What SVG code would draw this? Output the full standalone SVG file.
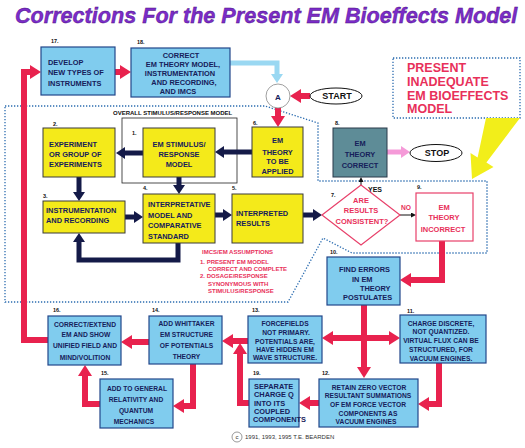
<svg xmlns="http://www.w3.org/2000/svg" width="525" height="448" viewBox="0 0 525 448">
<style>
text{font-family:"Liberation Sans",Arial,sans-serif;font-weight:bold}
.yb{fill:#f4ea1a;stroke:#3a3a3a;stroke-width:1}
.bb{fill:#80ccee;stroke:#22468a;stroke-width:1.2}
.t{fill:#16205a;font-size:7.4px}
.s{fill:#16205a;font-size:6.7px}
.c{text-anchor:middle}
.lb{fill:#111;font-size:5.5px}
.red{fill:none;stroke:#e8224e;stroke-width:6}
.navy{fill:none;stroke:#141a48;stroke-width:5}
.dot{fill:none;stroke:#2b6cb0;stroke-width:1.3;stroke-dasharray:1.3 1.7}
.rt{fill:#e8305a}
</style>
<defs>
<marker id="rh" markerUnits="userSpaceOnUse" viewBox="0 0 11 14" markerWidth="11" markerHeight="14" refX="1" refY="7" orient="auto"><path d="M0,0L11,7L0,14z" fill="#e8224e"/></marker>
<marker id="nh" markerUnits="userSpaceOnUse" viewBox="0 0 9 12" markerWidth="9" markerHeight="12" refX="1" refY="6" orient="auto"><path d="M0,0L9,6L0,12z" fill="#141a48"/></marker>
<marker id="lh" markerUnits="userSpaceOnUse" viewBox="0 0 9 12" markerWidth="9" markerHeight="12" refX="1" refY="6" orient="auto"><path d="M0,0L9,6L0,12z" fill="#9ad8f2"/></marker>
<marker id="ph" markerUnits="userSpaceOnUse" viewBox="0 0 9 12" markerWidth="9" markerHeight="12" refX="1" refY="6" orient="auto"><path d="M0,0L9,6L0,12z" fill="#f59ad8"/></marker>
<marker id="th" markerUnits="userSpaceOnUse" viewBox="0 0 5 5" markerWidth="5" markerHeight="5" refX="0" refY="2.5" orient="auto"><path d="M0,0L5,2.5L0,5z" fill="#111"/></marker>
</defs>
<rect width="525" height="448" fill="#fff"/>
<text x="15" y="23" font-size="21.6" font-style="italic" fill="#7b2cc9" stroke="#4a1080" stroke-width="0.4">Corrections For the Present EM Bioeffects Model</text>

<g id="boundaries">
<path class="dot" d="M5,106L265,106L318,123L318,181L487,181L487,253L352,253L323,238L288,302L5,302Z"/>
<rect class="dot" x="393" y="58" width="127" height="60"/>
<rect x="122" y="118" width="115" height="65" fill="none" stroke="#222" stroke-width="0.8"/>
<text x="113" y="115" font-size="6" fill="#111">OVERALL STIMULUS/RESPONSE MODEL</text>
</g>

<g id="model-label">
<text class="rt" x="407" y="72" font-size="12.5">PRESENT</text>
<text class="rt" x="407" y="86" font-size="12.5">INADEQUATE</text>
<text class="rt" x="407" y="100" font-size="12.5">EM BIOEFFECTS</text>
<text class="rt" x="407" y="113" font-size="12.5">MODEL</text>
<polygon points="486,118 520,118 486.4,162.4 493.5,167 472,179 470.5,153 477.6,157.6" fill="#f2ee1a"/>
</g>

<g id="connectors">
<path class="red" d="M115,72L121,72" marker-end="url(#rh)"/>
<path class="red" d="M310,96L300,96" marker-end="url(#rh)"/>
<path class="red" d="M278,108L278,117" marker-end="url(#rh)"/>
<path class="red" d="M442,241L442,280L410,280" marker-end="url(#rh)"/>
<path class="red" d="M364,305L364,368" marker-end="url(#rh)"/>
<path class="red" d="M364,338L332,338" marker-end="url(#rh)"/>
<path class="red" d="M364,338L390,338" marker-end="url(#rh)"/>
<path class="red" d="M439,363L439,404L428,404" marker-end="url(#rh)"/>
<path class="red" d="M319,403L309,403" marker-end="url(#rh)"/>
<path class="red" d="M248,341L232,341" marker-end="url(#rh)"/>
<path class="red" d="M249,403L240,403L240,353" marker-end="url(#rh)"/>
<path class="red" d="M149,342L131,342" marker-end="url(#rh)"/>
<path class="red" d="M193,364L193,406L183,406" marker-end="url(#rh)"/>
<path class="red" d="M100,404L85,404L85,375" marker-end="url(#rh)"/>
<path class="red" d="M48,340L24,340L24,72L31,72" marker-end="url(#rh)"/>
<path class="navy" d="M252,152L223,152" marker-end="url(#nh)"/>
<path class="navy" d="M143,153L124,153" marker-end="url(#nh)"/>
<path class="navy" d="M79,177L79,193" marker-end="url(#nh)"/>
<path class="navy" d="M179,177L179,186" marker-end="url(#nh)"/>
<path class="navy" d="M125,217L135,217" marker-end="url(#nh)"/>
<path class="navy" d="M215,215L224,215" marker-end="url(#nh)"/>
<path class="navy" d="M303,215L314,215" marker-end="url(#nh)"/>
<path class="navy" d="M178,243L178,260L79,260L79,241" marker-end="url(#nh)"/>
<path d="M230,63L277,63L277,75" fill="none" stroke="#9ad8f2" stroke-width="5" marker-end="url(#lh)"/>
<path d="M387,152L402,152" fill="none" stroke="#f59ad8" stroke-width="5" marker-end="url(#ph)"/>
<path d="M361,185L361,182" fill="none" stroke="#111" stroke-width="1" marker-end="url(#th)"/>
<path d="M400,215L411,215" fill="none" stroke="#111" stroke-width="1" marker-end="url(#th)"/>
<text x="368" y="192" font-size="7" fill="#111">YES</text>
<text x="401" y="210" font-size="6.7" fill="#e8305a">NO</text>
</g>

<g id="n17"><rect class="bb" x="41" y="47" width="74" height="48"/><text class="lb" x="51" y="43">17.</text>
<text class="t" x="48" y="65">DEVELOP</text><text class="t" x="48" y="75">NEW TYPES OF</text><text class="t" x="48" y="86">INSTRUMENTS</text></g>

<g id="n18"><rect class="bb" x="131" y="48" width="99" height="49"/><text class="lb" x="137" y="44">18.</text>
<text class="t c" x="181" y="58">CORRECT</text><text class="t c" x="183" y="66.5">EM THEORY MODEL,</text><text class="t c" x="180" y="75.5">INSTRUMENTATION</text><text class="t c" x="184" y="85">AND RECORDING,</text><text class="t c" x="178" y="93.5">AND IMCS</text></g>

<g id="nA"><circle cx="278" cy="96" r="12" fill="#fff" stroke="#888" stroke-width="0.8"/><text class="c" x="278" y="99.5" font-size="8" fill="#16205a">A</text></g>

<g id="nStart"><ellipse cx="336" cy="96" rx="26" ry="8" fill="#fff" stroke="#111" stroke-width="1"/><text class="c" x="337" y="99.2" font-size="9" fill="#111">START</text></g>

<g id="n2"><rect class="yb" x="43" y="128" width="72" height="49"/><text class="lb" x="53" y="126">2.</text>
<text class="t" x="49" y="147">EXPERIMENT</text><text class="t" x="49" y="157">OR GROUP OF</text><text class="t" x="49" y="167">EXPERIMENTS</text></g>

<g id="n1"><rect class="yb" x="143" y="128" width="72" height="49"/><text class="lb" x="132" y="135">1.</text>
<text class="t c" x="179" y="147">EM STIMULUS/</text><text class="t c" x="179" y="157">RESPONSE</text><text class="t c" x="179" y="167">MODEL</text></g>

<g id="n6"><rect class="yb" x="252" y="127" width="51" height="50"/><text class="lb" x="253" y="125">6.</text>
<text class="t c" x="277.5" y="143">EM</text><text class="t c" x="277.5" y="154.5">THEORY</text><text class="t c" x="277.5" y="164">TO BE</text><text class="t c" x="277.5" y="174">APPLIED</text></g>

<g id="n8"><rect x="333" y="128" width="54" height="49" fill="#5e8c97" stroke="#2a3a4a" stroke-width="1"/><text class="lb" x="335" y="125">8.</text>
<text class="t c" x="360" y="146">EM</text><text class="t c" x="360" y="157">THEORY</text><text class="t c" x="360" y="168">CORRECT</text></g>

<g id="nStop"><ellipse cx="436" cy="153" rx="26" ry="8.5" fill="#fff" stroke="#111" stroke-width="1"/><text class="c" x="437" y="156.2" font-size="9" fill="#111">STOP</text></g>

<g id="n3"><rect class="yb" x="43" y="201" width="82" height="32"/><text class="lb" x="43" y="198">3.</text>
<text class="t" x="46" y="213">INSTRUMENTATION</text><text class="t" x="46" y="223">AND RECORDING</text></g>

<g id="n4"><rect class="yb" x="143" y="194" width="72" height="49"/><text class="lb" x="143" y="190">4.</text>
<text class="t" x="148" y="207">INTERPRETATIVE</text><text class="t" x="148" y="217.5">MODEL AND</text><text class="t" x="148" y="228">COMPARATIVE</text><text class="t" x="148" y="238.5">STANDARD</text></g>

<g id="n5"><rect class="yb" x="232" y="194" width="71" height="49"/><text class="lb" x="232" y="190">5.</text>
<text class="t" x="236" y="216">INTERPRETED</text><text class="t" x="236" y="226">RESULTS</text></g>

<g id="n7"><polygon points="322,215 361,185 400,215 361,245" fill="#fff" stroke="#e8406a" stroke-width="1.2"/><text class="lb" x="331" y="197">7.</text>
<text class="rt c" x="361" y="203" font-size="7.5">ARE</text><text class="rt c" x="361" y="213" font-size="7.5">RESULTS</text><text class="rt c" x="362" y="224" font-size="7.5">CONSISTENT?</text></g>

<g id="n9"><rect x="416" y="193" width="57" height="48" fill="#fff" stroke="#e8406a" stroke-width="1.2"/><text class="lb" x="417" y="189">9.</text>
<text class="rt c" x="444" y="210" font-size="7.5">EM</text><text class="rt c" x="444" y="220" font-size="7.5">THEORY</text><text class="rt c" x="443" y="232" font-size="7.5">INCORRECT</text></g>

<g id="assumptions">
<text class="rt" x="202" y="254" font-size="6">IMCS/EM ASSUMPTIONS</text>
<text class="rt" x="200" y="264" font-size="6">1. PRESENT EM MODEL</text>
<text class="rt" x="208" y="271" font-size="6">CORRECT AND COMPLETE</text>
<text class="rt" x="200" y="278" font-size="6">2. DOSAGE/RESPONSE</text>
<text class="rt" x="208" y="285.5" font-size="6">SYNONYMOUS WITH</text>
<text class="rt" x="208" y="292.5" font-size="6">STIMULUS/RESPONSE</text>
</g>

<g id="n10"><rect class="bb" x="327" y="257" width="73" height="48"/><text class="lb" x="330" y="254">10.</text>
<text class="t" x="339" y="272" font-size="7.5">FIND ERRORS</text><text class="t" x="352" y="282">IN EM</text><text class="t" x="360" y="291">THEORY</text><text class="t" x="343" y="300">POSTULATES</text></g>

<g id="n11"><rect class="bb" x="400" y="315" width="86" height="48"/><text class="lb" x="407" y="313">11.</text>
<text class="s c" x="441" y="325.5">CHARGE DISCRETE,</text><text class="s c" x="441" y="334">NOT QUANTIZED.</text><text class="s c" x="441" y="342.5">VIRTUAL FLUX CAN BE</text><text class="s c" x="441" y="351.5">STRUCTURED, FOR</text><text class="s c" x="441" y="360.5">VACUUM ENGINES.</text></g>

<g id="n13"><rect class="bb" x="248" y="316" width="74" height="47"/><text class="lb" x="252" y="312">13.</text>
<text class="s c" x="285" y="325.5">FORCEFIELDS</text><text class="s c" x="286" y="335">NOT PRIMARY.</text><text class="s c" x="285" y="344">POTENTIALS ARE,</text><text class="s c" x="285" y="352">HAVE HIDDEN EM</text><text class="s c" x="285" y="360">WAVE STRUCTURE.</text></g>

<g id="n12"><rect class="bb" x="319" y="379" width="99" height="48"/><text class="lb" x="322" y="375">12.</text>
<text class="s c" x="369" y="389.5">RETAIN ZERO VECTOR</text><text class="s c" x="368" y="398">RESULTANT SUMMATIONS</text><text class="s c" x="368" y="406.5">OF EM FORCE VECTOR</text><text class="s c" x="368" y="415.5">COMPONENTS AS</text><text class="s c" x="366" y="424">VACUUM ENGINES</text></g>

<g id="n19"><rect class="bb" x="249" y="379" width="50" height="48"/><text class="lb" x="253" y="375">19.</text>
<text class="t" x="254" y="388.5" font-size="6">SEPARATE</text><text class="t" x="254" y="397" font-size="6">CHARGE Q</text><text class="t" x="254" y="405.5" font-size="6">INTO ITS</text><text class="t" x="254" y="414" font-size="6">COUPLED</text><text class="t" x="253" y="422" font-size="6">COMPONENTS</text></g>

<g id="n14"><rect class="bb" x="149" y="316" width="73" height="48"/><text class="lb" x="152" y="312">14.</text>
<text class="s c" x="186.5" y="325.5">ADD WHITTAKER</text><text class="s c" x="186.5" y="336.5">EM STRUCTURE</text><text class="s c" x="186.5" y="347.5">OF POTENTIALS</text><text class="s c" x="186.5" y="359">THEORY</text></g>

<g id="n16"><rect class="bb" x="48" y="316" width="73" height="49"/><text class="lb" x="53" y="312">16.</text>
<text class="s c" x="85" y="326.5">CORRECT/EXTEND</text><text class="s c" x="86" y="336.5">EM AND SHOW</text><text class="s c" x="85" y="347.5">UNIFIED FIELD AND</text><text class="s c" x="85" y="359.5">MIND/VOLITION</text></g>

<g id="n15"><rect class="bb" x="100" y="379" width="73" height="49"/><text class="lb" x="101" y="375">15.</text>
<text class="s c" x="137" y="390.5">ADD TO GENERAL</text><text class="s c" x="136" y="401.5">RELATIVITY AND</text><text class="s c" x="136" y="412.5">QUANTUM</text><text class="s c" x="134" y="423.5">MECHANICS</text></g>

<g id="copyright">
<circle cx="237" cy="437" r="5" fill="#fff" stroke="#555" stroke-width="0.6"/>
<text x="237" y="439" font-size="6" fill="#333" text-anchor="middle" style="font-weight:normal">c</text>
<text x="245" y="439" font-size="6" fill="#333" style="font-weight:normal">1991, 1993, 1995 T.E. BEARDEN</text>
</g>
</svg>
